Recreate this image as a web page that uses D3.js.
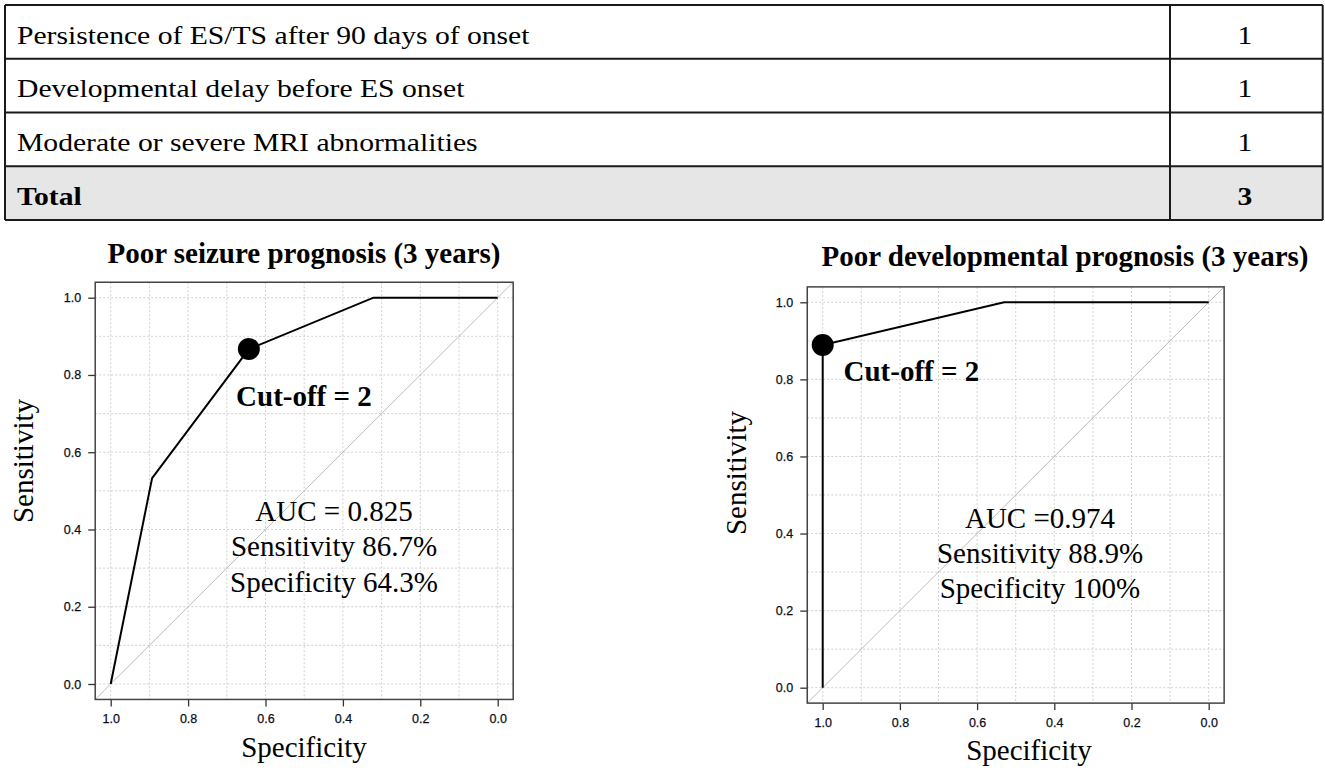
<!DOCTYPE html>
<html>
<head>
<meta charset="utf-8">
<script src="https://cdn.jsdelivr.net/npm/d3@7"></script>
<style>
  body { margin: 0; background: #fff; }
  .serif { font-family: "Liberation Serif", "Times New Roman", serif; }
  .tick line { stroke: #333; stroke-width: 1.3; }
</style>
</head>
<body>
<div id="chart"></div>
<script>
var width = 1325,
    height = 773;

// score table
var items = ["Persistence of ES/TS after 90 days of onset", "Developmental delay before ES onset", "Moderate or severe MRI abnormalities", "Total"];
var points = [1, 1, 1, 3];

// ROC curves (specificity, sensitivity)
var seizureSpec = [1.0, 0.893, 0.643, 0.321, 0.0];
var seizureSens = [0.0, 0.533, 0.867, 1.0, 1.0];
var devSpec = [1.0, 1.0, 0.53, 0.0];
var devSens = [0.0, 0.889, 1.0, 1.0];

var ticks = [1.0, 0.8, 0.6, 0.4, 0.2, 0.0];

var svg = d3.select("#chart").append("svg")
    .attr("width", width)
    .attr("height", height);

drawTable();

drawRoc({
  spec: seizureSpec, sens: seizureSens, cut: 2,
  xr: [110.7, 497.7], yr: [684, 297.7],
  title: "Poor seizure prognosis (3 years)", titleX: 304, titleY: 263,
  cutAt: [0.676, 0.72],
  stats: ["AUC = 0.825", "Sensitivity 86.7%", "Specificity 64.3%"], statAt: [0.423, 0.422], statStep: 35.3,
  ylab: [33, 461], xlab: [304, 757]
});

drawRoc({
  spec: devSpec, sens: devSens, cut: 1,
  xr: [822.7, 1208.7], yr: [687.7, 302.3],
  title: "Poor developmental prognosis (3 years)", titleX: 1065, titleY: 266,
  cutAt: [0.946, 0.796],
  stats: ["AUC =0.974", "Sensitivity 88.9%", "Specificity 100%"], statAt: [0.437, 0.415], statStep: 35.3,
  ylab: [746, 473], xlab: [1029, 760]
});

function drawTable() {
  var left = 5, right = 1322.7, divider = 1170;
  var rowY = d3.scaleBand().domain(d3.range(items.length)).range([5, 220]);
  var t = svg.append("g").attr("id", "table");

  t.append("rect")
      .attr("x", left).attr("y", rowY(3))
      .attr("width", right - left).attr("height", rowY.bandwidth())
      .attr("fill", "#e6e6e6");

  var rows = t.selectAll(".row")
      .data(items)
    .enter().append("g")
      .attr("class", "row");

  // the table font is a little wide, so stretch it sideways
  rows.append("text")
      .attr("class", "serif")
      .attr("transform", function(d, i) { return "translate(17," + (rowY(i) + 38.5) + ")scale(1.185,1)"; })
      .style("font-size", "25px")
      .style("font-weight", function(d, i) { return i == 3 ? "bold" : "normal"; })
      .text(function(d) { return d; });

  rows.append("text")
      .attr("class", "serif")
      .attr("transform", function(d, i) { return "translate(1245," + (rowY(i) + 38.5) + ")scale(1.185,1)"; })
      .attr("text-anchor", "middle")
      .style("font-size", "25px")
      .style("font-weight", function(d, i) { return i == 3 ? "bold" : "normal"; })
      .text(function(d, i) { return points[i]; });

  // rules
  t.selectAll(".hrule")
      .data(d3.range(items.length + 1))
    .enter().append("line")
      .attr("x1", left).attr("x2", right)
      .attr("y1", function(i) { return i < items.length ? rowY(i) : 220; })
      .attr("y2", function(i) { return i < items.length ? rowY(i) : 220; })
      .attr("stroke", "#1a1a1a").attr("stroke-width", 2);
  t.selectAll(".vrule")
      .data([left, divider, right])
    .enter().append("line")
      .attr("x1", function(d) { return d; }).attr("x2", function(d) { return d; })
      .attr("y1", 5).attr("y2", 220)
      .attr("stroke", "#1a1a1a").attr("stroke-width", 2);
}

function drawRoc(cfg) {
  var x = d3.scaleLinear().domain([1, 0]).range(cfg.xr);
  var y = d3.scaleLinear().domain([0, 1]).range(cfg.yr);
  var g = svg.append("g");
  var bx0 = x(1.04), bx1 = x(-0.04), by0 = y(1.04), by1 = y(-0.04);

  // dotted grid every 0.1
  var grid = d3.range(0, 11).map(function(i) { return i / 10; });
  g.selectAll(".vgrid").data(grid).enter().append("line")
      .attr("x1", x).attr("x2", x).attr("y1", by0).attr("y2", by1)
      .attr("stroke", "#cfcfcf").attr("stroke-dasharray", "2,2");
  g.selectAll(".hgrid").data(grid).enter().append("line")
      .attr("y1", y).attr("y2", y).attr("x1", bx0).attr("x2", bx1)
      .attr("stroke", "#cfcfcf").attr("stroke-dasharray", "2,2");

  // diagonal reference
  g.append("line")
      .attr("x1", x(1.04)).attr("y1", y(-0.04))
      .attr("x2", x(-0.04)).attr("y2", y(1.04))
      .attr("stroke", "#bdbdbd").attr("stroke-width", 1);

  // axes
  var xa = g.append("g")
      .attr("transform", "translate(0," + by1 + ")")
      .call(d3.axisBottom(x).tickValues(ticks).tickSize(7).tickPadding(8).tickFormat(d3.format(".1f")));
  xa.select(".domain").remove();
  var ya = g.append("g")
      .attr("transform", "translate(" + bx0 + ",0)")
      .call(d3.axisLeft(y).tickValues(ticks).tickSize(7).tickPadding(7).tickFormat(d3.format(".1f")));
  ya.select(".domain").remove();
  g.selectAll(".tick text")
      .style("font-family", "'Liberation Sans', Arial, sans-serif")
      .style("font-size", "12.5px")
      .style("fill", "#0d0d1a")
      .style("stroke", "#0d0d1a")
      .style("stroke-width", 0.25);

  // box
  g.append("rect")
      .attr("x", bx0).attr("y", by0)
      .attr("width", bx1 - bx0).attr("height", by1 - by0)
      .attr("fill", "none").attr("stroke", "#444").attr("stroke-width", 1.5);

  // ROC curve
  var pts = cfg.spec.map(function(s, i) { return [s, cfg.sens[i]]; });
  g.append("path")
      .datum(pts)
      .attr("d", d3.line().x(function(d) { return x(d[0]); }).y(function(d) { return y(d[1]); }))
      .attr("fill", "none").attr("stroke", "#000").attr("stroke-width", 2);

  g.append("circle")
      .attr("cx", x(pts[cfg.cut][0]))
      .attr("cy", y(pts[cfg.cut][1]))
      .attr("r", 11)
      .attr("fill", "#000");

  // texts
  g.append("text").attr("class", "serif")
      .attr("x", cfg.titleX).attr("y", cfg.titleY)
      .attr("text-anchor", "middle")
      .style("font-size", "29px").style("font-weight", "bold")
      .text(cfg.title);

  g.append("text").attr("class", "serif")
      .attr("x", x(cfg.cutAt[0])).attr("y", y(cfg.cutAt[1]))
      .style("font-size", "29px").style("font-weight", "bold")
      .text("Cut-off = 2");

  g.selectAll(".stat").data(cfg.stats).enter().append("text")
      .attr("class", "serif")
      .attr("x", x(cfg.statAt[0]))
      .attr("y", function(d, i) { return y(cfg.statAt[1]) + i * cfg.statStep; })
      .attr("text-anchor", "middle")
      .style("font-size", "29px")
      .text(function(d) { return d; });

  g.append("text").attr("class", "serif")
      .attr("transform", "translate(" + cfg.ylab[0] + "," + cfg.ylab[1] + ")rotate(-90)")
      .attr("text-anchor", "middle")
      .style("font-size", "29px")
      .text("Sensitivity");

  g.append("text").attr("class", "serif")
      .attr("x", cfg.xlab[0]).attr("y", cfg.xlab[1])
      .attr("text-anchor", "middle")
      .style("font-size", "29px")
      .text("Specificity");
}
</script>
</body>
</html>
